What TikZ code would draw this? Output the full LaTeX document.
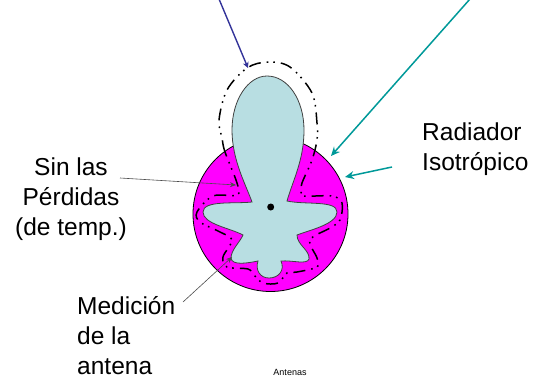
\documentclass[tikz,border=0pt]{standalone}
\usepackage{fontspec}
\setmainfont{Liberation Sans}
\usetikzlibrary{shapes,arrows.meta,positioning,calc}
\definecolor{spherecolor}{RGB}{255,0,255}
\definecolor{lobecolor}{RGB}{184,222,226}
\definecolor{bluearrow}{RGB}{51,51,153}
\definecolor{tealarrow}{RGB}{0,153,153}

\begin{document}
\begin{tikzpicture}[
  x=1pt, y=-1pt,
  label/.style={align=left, inner sep=0pt, font=\fontsize{24.5}{30}\selectfont},
  sphere/.style={circle, draw, fill=spherecolor, line width=0.8pt, minimum size=155pt, inner sep=0pt},
  lobe/.style={draw=black!75, fill=lobecolor, line width=0.8pt},
  measured/.style={draw=black, line width=1.5pt, dash pattern=on 12pt off 6pt on 1.6pt off 5pt on 1.6pt off 6pt},
  thinarrow/.style={-{Stealth[length=6pt,width=5pt]}, draw=black!70, line width=0.6pt},
  bluearr/.style={-{Stealth[length=6pt,width=6pt]}, draw=bluearrow, line width=1.4pt},
  tealarr/.style={-{Stealth[length=9pt,width=8pt]}, draw=tealarrow, line width=1.5pt}
]
  \useasboundingbox (0,0) rectangle (543,380);

  \node[sphere] (sphere) at (270.5,214) {};

  % lobe pattern
  \draw[lobe] (252,202)
    .. controls (246,185) and (232,160) .. (232,130)
    .. controls (232,100) and (248,76) .. (267,76)
    .. controls (288,76) and (304,100) .. (304,130)
    .. controls (304,160) and (293,180) .. (287,201)
    .. controls (305,205) and (337,200) .. (337,212)
    .. controls (337,224) and (310,230) .. (297,235)
    .. controls (297,245) and (310,250) .. (309,259)
    .. controls (307,265) and (292,260) .. (281,261)
    .. controls (285,270) and (279,278) .. (269,278)
    .. controls (260,278) and (255,270) .. (258,261)
    .. controls (248,263) and (232,266) .. (231,258)
    .. controls (231,250) and (240,242) .. (243,235)
    .. controls (230,228) and (203,224) .. (203,212)
    .. controls (203,200) and (235,204) .. (252,202) -- cycle;

  % measured pattern
  \draw[measured] plot[smooth cycle, tension=0.55] coordinates {
    (237,183) (225,152) (222,138) (219,120) (227,90) (247,68) (268,62) (290,67)
    (312,93) (317,123) (317,140) (312,160) (302,183) (302,190) (303,196) (332,196)
    (342,203) (340,220) (330,228) (310,240) (317,258) (317,267) (297,272) (287,273)
    (278,283) (263,283) (254,275) (248,269) (227,267) (223,257) (232,240) (220,232)
    (200,222) (197,212) (213,196) (237,195)};

  \node[circle, fill=black, minimum size=7pt, inner sep=0pt] (center) at (270.7,207) {};

  \node[label, align=center] (sinlas) at (71,199.5) {Sin las\\Pérdidas\\(de temp.)};
  \node[label, anchor=west] (medicion) at (77,336) {Medición\\de la\\antena};
  \node[label, anchor=west] (radiador) at (422,149) {Radiador\\Isotrópico};
  \node[font=\fontsize{9}{10}\selectfont, inner sep=0pt] (antenas) at (290,372) {Antenas};

  \coordinate (bluestart) at (219,-1);
  \coordinate (bluetip) at (248,68);
  \coordinate (tealstart) at (470,-1);
  \coordinate (tealtip) at (331,156);
  \coordinate (isostart) at (392,167);
  \coordinate (isotip) at (345,177);
  \coordinate (sinstart) at (120,178);
  \coordinate (sintip) at (236,185);
  \coordinate (medstart) at (183,302);
  \coordinate (medtip) at (232,257);

  \draw[bluearr] (bluestart) -- (bluetip);
  \draw[tealarr] (tealstart) -- (tealtip);
  \draw[tealarr] (isostart) -- (isotip);
  \draw[thinarrow] (sinstart) -- (sintip);
  \draw[thinarrow] (medstart) -- (medtip);
\end{tikzpicture}
\end{document}
